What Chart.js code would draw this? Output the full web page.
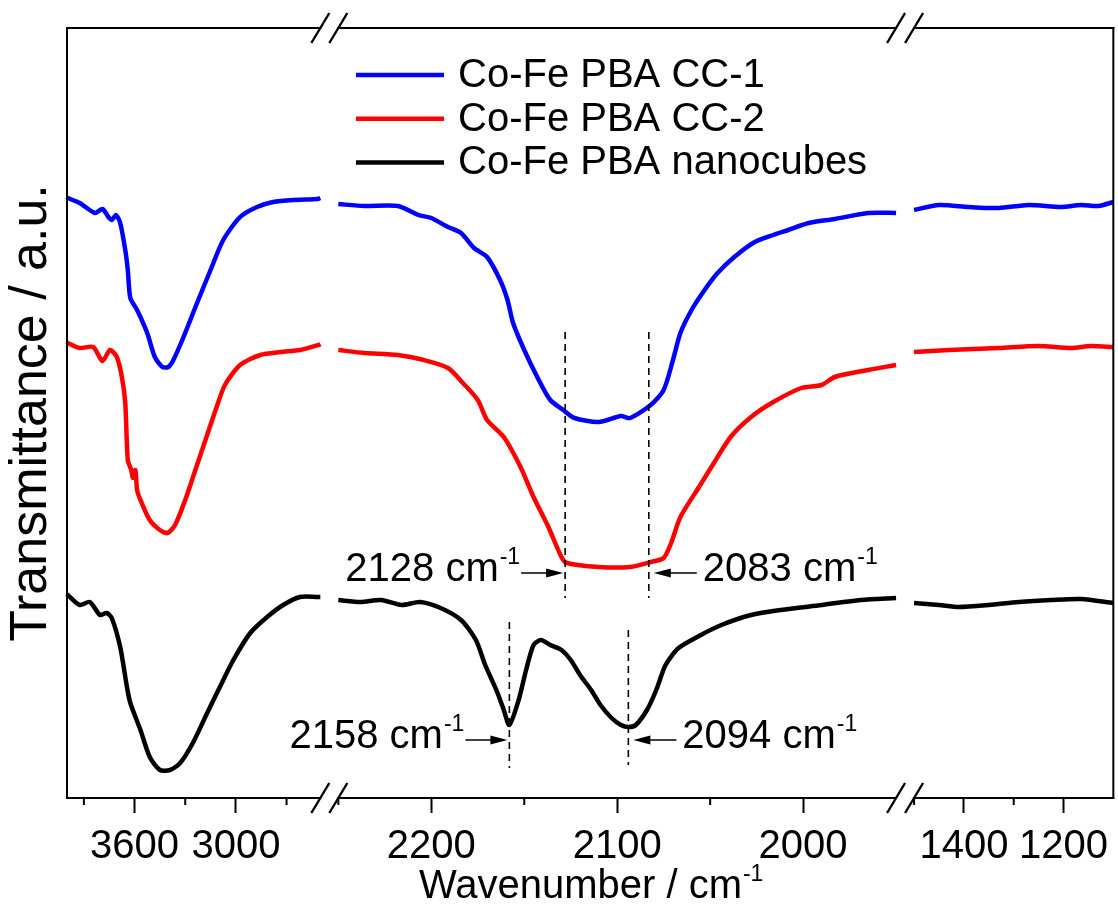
<!DOCTYPE html>
<html>
<head>
<meta charset="utf-8">
<title>FTIR spectra of Co-Fe PBA samples</title>
<script src="https://cdn.jsdelivr.net/npm/chart.js@4.4.1/dist/chart.umd.min.js"></script>
<style>
  html, body { margin: 0; padding: 0; background: #fff; }
  #wrap { width: 1118px; height: 911px; }
</style>
</head>
<body>
<div id="wrap"><canvas id="ftir" width="1118" height="911"></canvas></div>
<script>
// Wavenumber windows shown on the broken x axis (cm^-1, left to right)
const axisRanges = [[4000, 2500], [2250, 1950], [1500, 1100]];
const majorTicks = [3600, 3000, 2200, 2100, 2000, 1400, 1200];
const minorTicks = [3900, 3300, 2700, 2250, 2150, 2050, 1500, 1300];

const seriesLabels = ['Co-Fe PBA CC-1', 'Co-Fe PBA CC-2', 'Co-Fe PBA nanocubes'];

// [wavenumber, transmittance (a.u., offset for stacking)]
const cc1High = [[4000,60.3],[3995,60.2],[3925,59.7],[3835,58.7],[3790,59.1],[3755,58.3],[3735,58.0],[3710,58.5],[3685,57.7],[3655,55.0],[3640,53.0],[3625,50.2],[3585,49.0],[3525,46.7],[3480,44.3],[3435,43.3],[3400,43.3],[3370,44.0],[3310,46.3],[3230,49.7],[3150,53.0],[3075,56.0],[2975,58.3],[2875,59.3],[2780,59.8],[2660,60.0],[2515,60.1],[2500,60.2]];
const cc1Mid = [[2250,59.6],[2236,59.4],[2218,59.4],[2207,58.5],[2200,58.2],[2191,57.3],[2184,56.7],[2177,55.2],[2170,54.3],[2163,52.0],[2159,50.0],[2156,47.7],[2150,45.0],[2143,42.3],[2136,40.0],[2129,39.0],[2123,38.2],[2110,37.8],[2098,38.4],[2093,38.2],[2082,39.5],[2075,41.0],[2070,44.0],[2066,46.7],[2060,49.0],[2053,51.0],[2046,52.7],[2037,54.3],[2026,55.8],[2016,56.5],[2008,57.0],[1997,57.7],[1983,58.1],[1965,58.7],[1950,58.7]];
const cc1Low = [[1500,59.0],[1450,59.5],[1390,59.3],[1330,59.2],[1270,59.5],[1205,59.3],[1165,59.5],[1130,59.4],[1100,59.8]];

const cc2High = [[4000,45.8],[3995,45.7],[3925,45.2],[3845,45.3],[3790,43.9],[3745,45.0],[3705,44.3],[3675,42.3],[3655,39.7],[3640,34.0],[3620,33.0],[3610,32.2],[3595,33.0],[3585,31.0],[3565,30.0],[3510,28.0],[3450,27.0],[3405,26.7],[3360,27.5],[3300,30.0],[3240,33.0],[3180,36.0],[3120,39.0],[3065,41.5],[2975,43.5],[2855,44.5],[2735,44.8],[2620,45.0],[2510,45.5],[2500,45.6]];
const cc2Mid = [[2250,45.0],[2236,44.7],[2218,44.5],[2204,44.0],[2191,43.2],[2183,41.7],[2175,40.0],[2170,38.0],[2161,36.3],[2152,33.3],[2145,30.3],[2137,27.3],[2130,24.3],[2127,23.7],[2110,23.3],[2093,23.3],[2082,23.8],[2075,24.2],[2071,25.7],[2066,28.3],[2056,31.3],[2048,33.7],[2039,36.3],[2028,38.3],[2016,39.8],[2001,41.2],[1990,41.5],[1983,42.3],[1965,43.0],[1950,43.5]];
const cc2Low = [[1500,44.8],[1430,45.0],[1330,45.2],[1250,45.4],[1185,45.2],[1145,45.4],[1100,45.3]];

const cubeHigh = [[4000,20.6],[3995,20.5],[3925,19.5],[3865,19.8],[3805,18.5],[3765,18.7],[3735,18.2],[3685,15.3],[3645,11.3],[3625,9.7],[3565,7.0],[3510,4.3],[3450,3.0],[3390,3.0],[3330,3.7],[3255,5.7],[3170,8.7],[3095,11.3],[3015,14.0],[2915,16.7],[2815,18.3],[2720,19.5],[2620,20.3],[2515,20.3],[2500,20.3]];
const cubeMid = [[2250,20.0],[2238,19.8],[2227,20.0],[2216,19.5],[2206,19.8],[2195,19.2],[2184,18.0],[2176,16.0],[2171,13.5],[2165,11.0],[2161,9.0],[2158,7.5],[2153,10.0],[2149,13.0],[2145,15.5],[2141,16.0],[2136,15.5],[2130,15.0],[2125,14.0],[2120,12.5],[2114,11.0],[2109,9.5],[2103,8.2],[2098,7.5],[2094,7.3],[2090,7.5],[2084,9.0],[2079,11.0],[2074,13.5],[2067,15.2],[2055,16.5],[2044,17.5],[2028,18.5],[2012,19.0],[1990,19.5],[1969,20.0],[1950,20.2]];
const cubeLow = [[1500,19.7],[1450,19.5],[1410,19.3],[1350,19.5],[1290,19.8],[1225,20.0],[1165,20.1],[1100,19.7]];

// Cyanide stretching positions marked with dashed lines
const peakMarks = [
  { wn: 2128, side: 'left',  from: 46.8, to: 20.2, arrowAt: 22.7 },
  { wn: 2083, side: 'right', from: 46.8, to: 20.2, arrowAt: 22.7 },
  { wn: 2158, side: 'left',  from: 17.8, to: 3.2,  arrowAt: 6.0 },
  { wn: 2094, side: 'right', from: 17.0, to: 3.5,  arrowAt: 6.0 }
];

const FONT = '"Liberation Sans", Arial, Helvetica, sans-serif';

// Linear scale split into several windows separated by a fixed gap
class BrokenAxisScale extends Chart.LinearScale {
  determineDataLimits() {
    const all = this.options.breaks.ranges.flat();
    this.min = Math.min(...all);
    this.max = Math.max(...all);
  }
  buildTicks() {
    return this.options.breaks.tickValues.map(v => ({ value: v }));
  }
  windows() {
    const { ranges, weights, gap } = this.options.breaks;
    const avail = this.right - this.left - gap * (ranges.length - 1);
    const sum = weights.reduce((a, b) => a + b, 0);
    let pos = this.left;
    return ranges.map((r, i) => {
      const len = avail * weights[i] / sum;
      const w = { from: r[0], to: r[1], p0: pos, p1: pos + len };
      pos += len + gap;
      return w;
    });
  }
  getPixelForValue(value) {
    const ws = this.windows();
    for (let i = 0; i < ws.length; i++) {
      const w = ws[i];
      const lo = Math.min(w.from, w.to), hi = Math.max(w.from, w.to);
      if (value >= lo && value <= hi) {
        return w.p0 + (value - w.from) / (w.to - w.from) * (w.p1 - w.p0);
      }
      const next = ws[i + 1];
      if (next && value < lo && value > Math.max(next.from, next.to)) {
        return (w.p1 + next.p0) / 2;
      }
    }
    return value > ws[0].from ? ws[0].p0 : ws[ws.length - 1].p1;
  }
  getValueForPixel(pixel) {
    const ws = this.windows();
    for (const w of ws) {
      if (pixel >= w.p0 && pixel <= w.p1) {
        return w.from + (pixel - w.p0) / (w.p1 - w.p0) * (w.to - w.from);
      }
    }
    return NaN;
  }
}
BrokenAxisScale.id = 'brokenAxis';
BrokenAxisScale.defaults = {};
Chart.register(BrokenAxisScale);

function joinWindows(...parts) {
  const pts = [];
  parts.forEach((p, i) => {
    if (i > 0) {
      const prev = parts[i - 1];
      pts.push({ x: (prev[prev.length - 1][0] + p[0][0]) / 2, y: null });
    }
    p.forEach(([x, y]) => pts.push({ x, y }));
  });
  return pts;
}

function textWithSup(ctx, base, sup, x, baseline, align, size) {
  const supSize = Math.round(size * 0.58);
  ctx.font = size + 'px ' + FONT;
  const wb = ctx.measureText(base).width;
  ctx.font = supSize + 'px ' + FONT;
  const ws = ctx.measureText(sup).width;
  const total = wb + 1 + ws;
  let sx = x;
  if (align === 'right') sx = x - total;
  else if (align === 'center') sx = x - total / 2;
  ctx.textAlign = 'left';
  ctx.textBaseline = 'alphabetic';
  ctx.fillStyle = '#000';
  ctx.font = size + 'px ' + FONT;
  ctx.fillText(base, sx, baseline);
  ctx.font = supSize + 'px ' + FONT;
  ctx.fillText(sup, sx + wb + 1, baseline - size * 0.42);
}

function seg(ctx, x1, y1, x2, y2) {
  ctx.beginPath();
  ctx.moveTo(x1, y1);
  ctx.lineTo(x2, y2);
  ctx.stroke();
}

function arrow(ctx, tailX, tipX, yy) {
  const dir = Math.sign(tipX - tailX);
  const head = 17;
  ctx.lineWidth = 1.5;
  seg(ctx, tailX, yy, tipX - dir * head * 0.6, yy);
  ctx.beginPath();
  ctx.moveTo(tipX, yy);
  ctx.lineTo(tipX - dir * head, yy - 4.5);
  ctx.lineTo(tipX - dir * head, yy + 4.5);
  ctx.closePath();
  ctx.fill();
}

const decorations = {
  id: 'decorations',
  afterDraw(chart) {
    const { ctx, chartArea: a } = chart;
    const xs = chart.scales.x, ys = chart.scales.y;
    const ws = xs.windows();
    ctx.save();
    ctx.strokeStyle = '#000';
    ctx.fillStyle = '#000';
    ctx.lineCap = 'square';
    ctx.lineWidth = 2;

    // frame with breaks on top and bottom edges
    seg(ctx, a.left, a.top, a.left, a.bottom);
    seg(ctx, a.right, a.top, a.right, a.bottom);
    ws.forEach(w => {
      seg(ctx, w.p0, a.top, w.p1, a.top);
      seg(ctx, w.p0, a.bottom, w.p1, a.bottom);
    });
    ctx.lineCap = 'butt';
    ctx.lineWidth = 2.4;
    for (let i = 0; i < ws.length - 1; i++) {
      for (const cx of [ws[i].p1, ws[i + 1].p0]) {
        for (const ey of [a.top, a.bottom]) {
          seg(ctx, cx - 9, ey + 15, cx + 9, ey - 15);
        }
      }
    }

    // minor ticks
    ctx.lineWidth = 2;
    minorTicks.forEach(v => {
      const px = xs.getPixelForValue(v);
      seg(ctx, px, a.bottom, px, a.bottom + 7);
    });

    // legend
    chart.data.datasets.forEach((ds, i) => {
      const ly = 75 + i * 43.7;
      ctx.strokeStyle = ds.borderColor;
      ctx.lineWidth = 4.5;
      seg(ctx, 356, ly, 444, ly);
      ctx.fillStyle = '#000';
      ctx.font = '40px ' + FONT;
      ctx.textAlign = 'left';
      ctx.textBaseline = 'middle';
      ctx.fillText(ds.label, 458, ly + 1);
    });

    // peak markers
    ctx.strokeStyle = '#000';
    ctx.fillStyle = '#000';
    peakMarks.forEach(m => {
      const px = xs.getPixelForValue(m.wn);
      ctx.lineWidth = 1.6;
      ctx.setLineDash([7, 5]);
      seg(ctx, px, ys.getPixelForValue(m.from), px, ys.getPixelForValue(m.to));
      ctx.setLineDash([]);
      const ay = ys.getPixelForValue(m.arrowAt);
      if (m.side === 'left') {
        const tip = px - 2, tail = tip - 42;
        arrow(ctx, tail, tip, ay);
        textWithSup(ctx, m.wn + ' cm', '-1', tail - 1, ay + 8, 'right', 40);
      } else {
        const tip = px + 5, tail = tip + 43;
        arrow(ctx, tail, tip, ay);
        textWithSup(ctx, m.wn + ' cm', '-1', tail + 6, ay + 8, 'left', 40);
      }
    });

    // x axis title
    textWithSup(ctx, 'Wavenumber / cm', '-1', (a.left + a.right) / 2 + 1, 898, 'center', 40);
    ctx.restore();
  }
};

const colors = ['#0000ff', '#ff0000', '#000000'];
const seriesData = [
  joinWindows(cc1High, cc1Mid, cc1Low),
  joinWindows(cc2High, cc2Mid, cc2Low),
  joinWindows(cubeHigh, cubeMid, cubeLow)
];

Chart.defaults.font.family = FONT;
Chart.defaults.color = '#000';

new Chart(document.getElementById('ftir'), {
  type: 'line',
  data: {
    datasets: seriesLabels.map((label, i) => ({
      label,
      data: seriesData[i],
      borderColor: colors[i],
      backgroundColor: colors[i],
      borderWidth: 4.5,
      pointRadius: 0,
      tension: 0.25,
      spanGaps: false,
      fill: false
    }))
  },
  options: {
    responsive: false,
    animation: false,
    devicePixelRatio: 1,
    events: [],
    layout: { padding: { left: 0, right: 0, top: 28, bottom: 30 } },
    plugins: { legend: { display: false }, tooltip: { enabled: false } },
    scales: {
      x: {
        type: 'brokenAxis',
        breaks: { ranges: axisRanges, weights: [253, 557, 199], gap: 18, tickValues: majorTicks },
        ticks: {
          autoSkip: false, maxRotation: 0, minRotation: 0, padding: 10,
          color: '#000', font: { size: 40 },
          callback: v => String(v)
        },
        grid: { display: true, drawOnChartArea: false, drawTicks: true, tickLength: 15, tickWidth: 2, tickColor: '#000', color: '#000' },
        border: { display: false },
        title: { display: false }
      },
      y: {
        min: 0.2, max: 77.2,
        ticks: { display: false },
        grid: { display: false, drawTicks: false },
        border: { display: false },
        title: { display: true, text: 'Transmittance / a.u.', color: '#000', font: { size: 52 }, padding: { top: 0, bottom: 4.6 } }
      }
    }
  },
  plugins: [decorations]
});
</script>
</body>
</html>
